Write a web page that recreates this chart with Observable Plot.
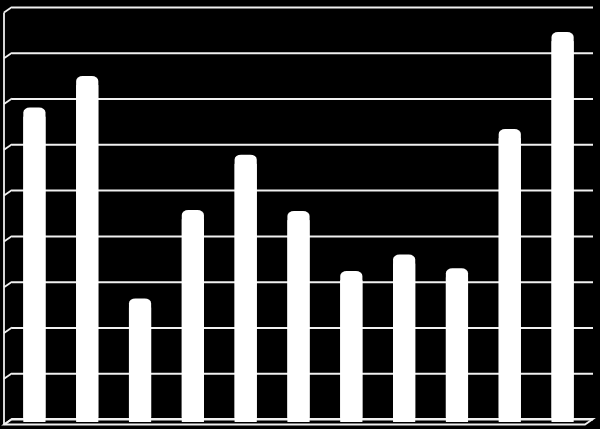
<!DOCTYPE html>
<html>
<head>
<meta charset="utf-8">
<script src="https://cdn.jsdelivr.net/npm/d3@7"></script>
<script src="https://cdn.jsdelivr.net/npm/@observablehq/plot@0.6"></script>
<style>
  html, body { margin: 0; padding: 0; background: #000; }
  #chart { width: 600px; height: 429px; overflow: hidden; }
</style>
</head>
<body>
<div id="chart"></div>
<script>
// Data
const categories = ["1", "2", "3", "4", "5", "6", "7", "8", "9", "10", "11"];
const values = [6.87, 7.56, 2.70, 4.63, 5.84, 4.61, 3.30, 3.66, 3.36, 6.40, 8.52];
const gridTicks = [0, 1, 2, 3, 4, 5, 6, 7, 8, 9];

const data = categories.map((c, i) => ({category: c, value: values[i]}));

// 3D depth offsets (pixels)
const depthX = 8, depthY = 5.5;

// Left wall + floor decoration drawn from the y scale
function walls(index, scales, vals, dim) {
  const g = d3.create("svg:g")
    .attr("fill", "none")
    .attr("stroke", "#f0f0f0")
    .attr("stroke-width", 1.8);
  const xl = dim.marginLeft;
  const xr = dim.width - dim.marginRight;
  const y0 = scales.y(0);
  const yTop = scales.y(d3.max(gridTicks));
  g.append("line")
    .attr("x1", xl - depthX).attr("x2", xl - depthX)
    .attr("y1", yTop + depthY).attr("y2", y0 + depthY);
  for (const t of gridTicks) {
    const y = scales.y(t);
    g.append("line")
      .attr("x1", xl - depthX).attr("y1", y + depthY)
      .attr("x2", xl).attr("y2", y);
  }
  g.append("path")
    .attr("d", `M${xl},${y0}L${xr},${y0}L${xr - depthX},${y0 + depthY}L${xl - depthX},${y0 + depthY}Z`);
  return g.node();
}

const chart = Plot.plot({
  width: 600,
  height: 429,
  marginLeft: 12,
  marginRight: 7,
  marginTop: 7,
  marginBottom: 10,
  style: {background: "#000"},
  x: {type: "band", domain: categories, paddingInner: 0.58, paddingOuter: 0.29, round: false, axis: null},
  y: {domain: [0, 9], axis: null},
  marks: [
    Plot.ruleY(gridTicks, {stroke: "#f0f0f0", strokeWidth: 2}),
    walls,
    Plot.barY(data, {x: "category", y: "value", fill: "#fff", rx: 6.5, ry: 5, dx: -4, dy: 3}),
    Plot.barY(data, {x: "category", y1: 0, y2: d => d.value - 0.2, fill: "#fff", dx: -4, dy: 3})
  ]
});

document.getElementById("chart").appendChild(chart);
</script>
</body>
</html>
